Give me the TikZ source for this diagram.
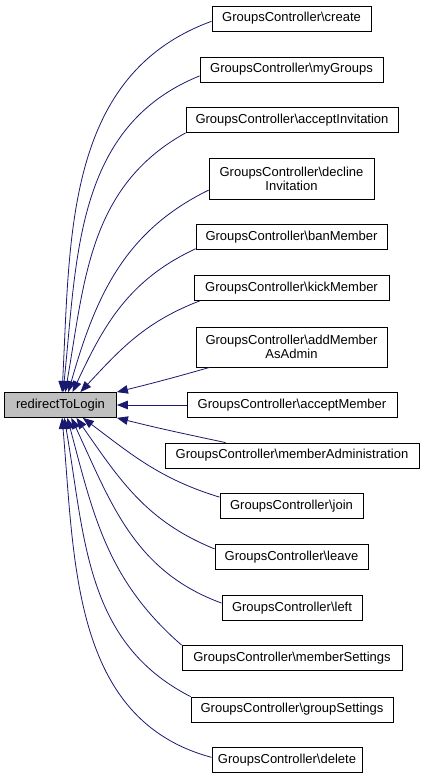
\documentclass[tikz,border=0pt]{standalone}
\usepackage{fontspec}
\setmainfont{Liberation Sans}
\usepackage{tikz}
\usetikzlibrary{arrows.meta}
\definecolor{edgeblue}{RGB}{25,25,112}
\definecolor{fngray}{RGB}{191,191,191}
\tikzset{
  fn/.style      = {rectangle, draw=black, fill=white, line width=0.8pt, inner sep=0pt,
                    minimum height=25pt, align=center},
  fnG/.style     = {fn, fill=fngray},
  callarrow/.style = {draw=edgeblue, line width=0.8pt,
                    -{Triangle[length=11pt, width=8.5pt]}},
}

\begin{document}
\begin{tikzpicture}[x=1pt, y=1pt, every node/.style={font=\fontsize{13}{14}\selectfont}]
    \useasboundingbox (0,0) rectangle (424,779);

    %% caller target
    \node[fnG, minimum width=112pt] (main) at (60.5, 374) {redirectToLogin};

    %% callers (top to bottom)
    \node[fn, minimum width=159pt] (create)   at (291.5, 760.5) {GroupsController\textbackslash create};
    \node[fn, minimum width=183pt] (mygroups) at (291.5, 709.5) {GroupsController\textbackslash myGroups};
    \node[fn, minimum width=212pt] (accinv)   at (292,   659)   {GroupsController\textbackslash acceptInvitation};
    \node[fn, minimum width=165pt, minimum height=41pt] (decinv) at (291.5, 600.5) {GroupsController\textbackslash decline\\Invitation};
    \node[fn, minimum width=191pt] (ban)      at (291.5, 542)   {GroupsController\textbackslash banMember};
    \node[fn, minimum width=195pt] (kick)     at (291.5, 491)   {GroupsController\textbackslash kickMember};
    \node[fn, minimum width=191pt, minimum height=40pt] (addadm) at (291.5, 432) {GroupsController\textbackslash addMember\\AsAdmin};
    \node[fn, minimum width=210pt] (accmem)   at (292,   374)   {GroupsController\textbackslash acceptMember};
    \node[fn, minimum width=254pt] (memadm)   at (292,   323.5) {GroupsController\textbackslash memberAdministration};
    \node[fn, minimum width=143pt] (join)     at (291.5, 273)   {GroupsController\textbackslash join};
    \node[fn, minimum width=153pt] (leave)    at (291.5, 222)   {GroupsController\textbackslash leave};
    \node[fn, minimum width=140pt] (left)     at (292,   171)   {GroupsController\textbackslash left};
    \node[fn, minimum width=220pt] (memset)   at (292,   121)   {GroupsController\textbackslash memberSettings};
    \node[fn, minimum width=202pt] (grpset)   at (292,   69.5)  {GroupsController\textbackslash groupSettings};
    \node[fn, minimum width=150pt] (delete)   at (287,   19)    {GroupsController\textbackslash delete};

    %% calls above
    \draw[callarrow] (create.182)        to[out=200, in=87] (main.83);
    \draw[callarrow] (mygroups.184)      to[out=202, in=84] (main.79);
    \draw[callarrow] (accinv.south west) to[out=209, in=80] (main.70);
    \draw[callarrow] (decinv.188)        to[out=206, in=74] (main.59);
    \draw[callarrow] (ban.187)           to[out=205, in=65] (main.47);
    \draw[callarrow] (kick.188)          to[out=201, in=47] (main.33);
    \draw[callarrow] (addadm.194)        to[out=196, in=14] (main.north east);

    %% straight call
    \draw[callarrow] (accmem.west) -- (main.east);

    %% calls below
    \draw[callarrow] (memadm.169)        to[out=168, in=-14] (main.south east);
    \draw[callarrow] (join.173)          to[out=163, in=-37] (main.-30);
    \draw[callarrow] (leave.174)         to[out=158, in=-55] (main.-39);
    \draw[callarrow] (left.176)          to[out=160, in=-65] (main.-50);
    \draw[callarrow] (memset.north west) to[out=139, in=-75] (main.-62);
    \draw[callarrow] (grpset.north west) to[out=153, in=-80] (main.-74);
    \draw[callarrow] (delete.178)        to[out=165, in=-85] (main.-83);

\end{tikzpicture}
\end{document}
